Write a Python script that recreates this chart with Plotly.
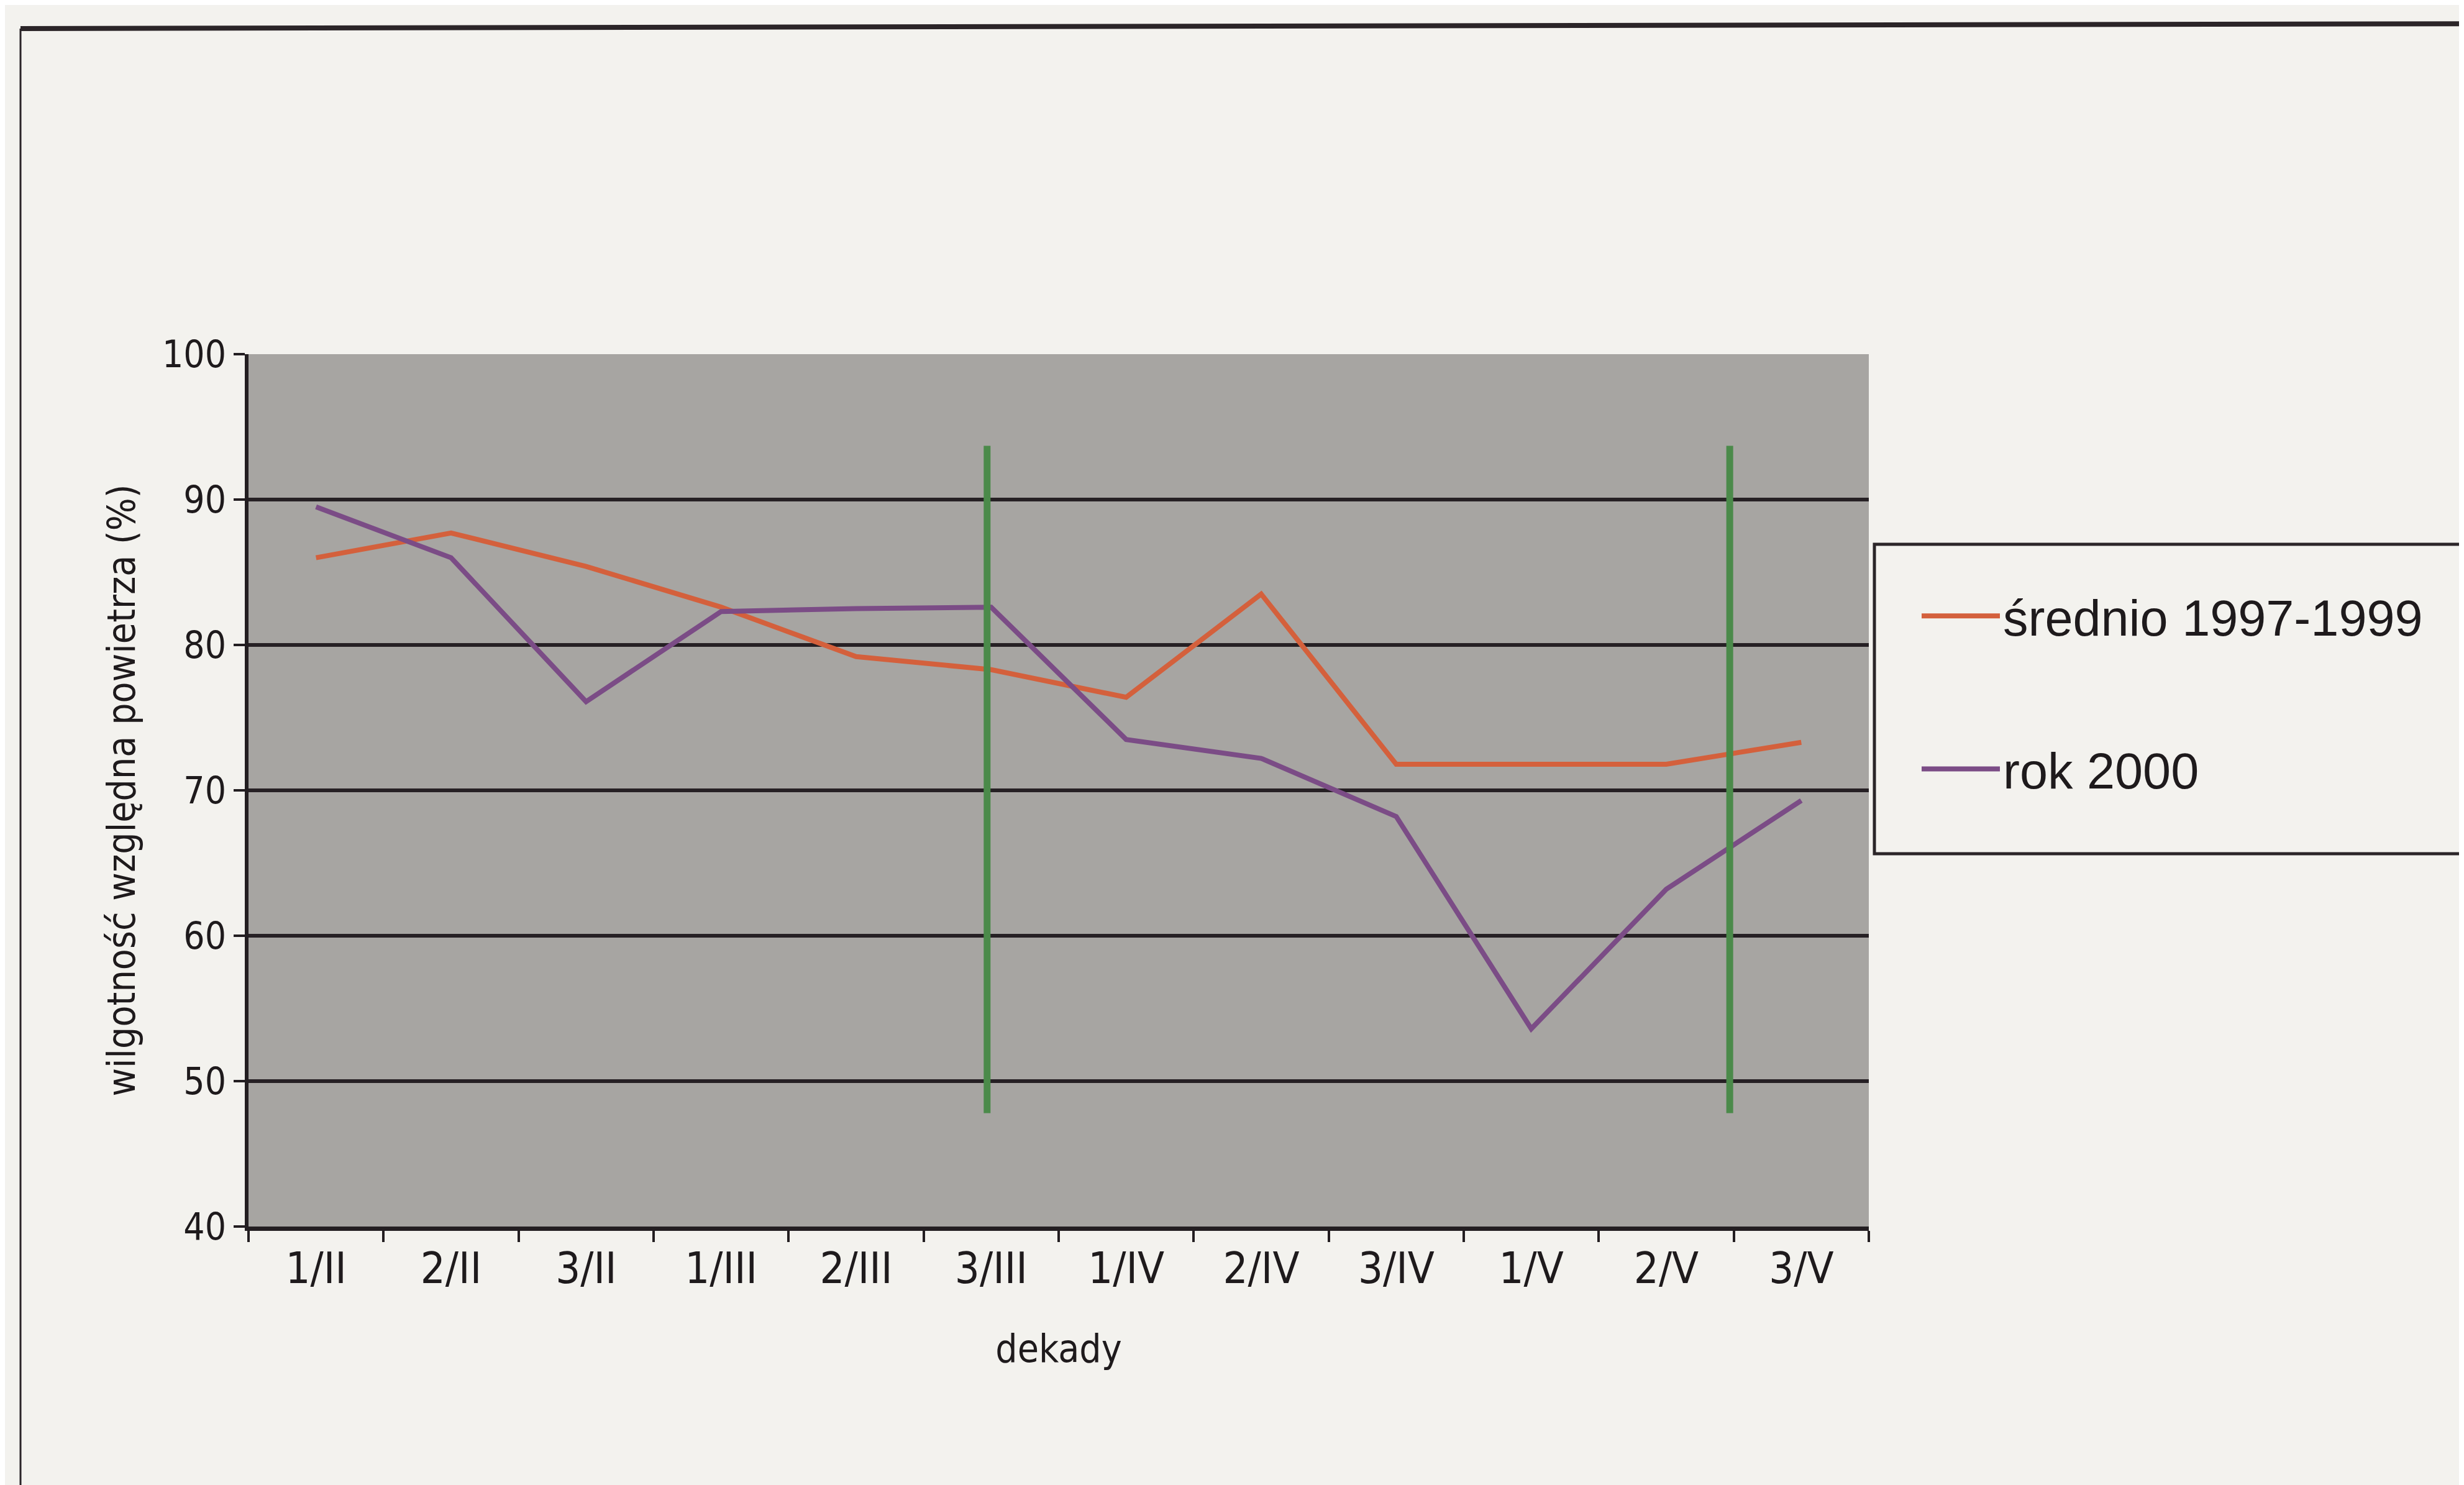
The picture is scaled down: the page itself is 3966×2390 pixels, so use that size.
import plotly.graph_objects as go

categories = ["1/II", "2/II", "3/II", "1/III", "2/III", "3/III",
              "1/IV", "2/IV", "3/IV", "1/V", "2/V", "3/V"]
avg_1997_1999 = [86.0, 87.7, 85.4, 82.6, 79.2, 78.3, 76.4, 83.5, 71.8, 71.8, 71.8, 73.3]
year_2000 = [89.5, 86.0, 76.1, 82.3, 82.5, 82.6, 73.5, 72.2, 68.2, 53.6, 63.2, 69.3]
series_names = ["średnio 1997-1999", "rok 2000"]
y_ticks = [40, 50, 60, 70, 80, 90, 100]
marker_lines_x = [4.97, 10.47]

W, H = 3966, 2390
L, R, T, B = 392, 966, 562, 424
pw = W - L - R
ph = H - T - B

def px_x(p):
    return (p - L) / pw

def px_y(p):
    return (H - B - p) / ph

NARROW = "Liberation Sans Narrow, Arial Narrow, DejaVu Sans Condensed, sans-serif"
SANS = "Liberation Sans, Arial, sans-serif"

fig = go.Figure()
fig.add_trace(go.Scatter(x=categories, y=avg_1997_1999, mode="lines",
                         name=series_names[0], legendgroup="a",
                         line=dict(color="#d4603c", width=8)))
fig.add_trace(go.Scatter(x=categories, y=year_2000, mode="lines",
                         name=series_names[1], legendgroup="b",
                         line=dict(color="#7b4c86", width=8)))

shapes = []
for xv in marker_lines_x:
    shapes.append(dict(type="line", xref="x", yref="y", x0=xv, x1=xv, y0=47.8, y1=93.7,
                       line=dict(color="#4b8a4a", width=11), layer="above"))
# legend box
shapes.append(dict(type="rect", xref="paper", yref="paper",
                   x0=px_x(3009), x1=px_x(4100), y0=px_y(1366), y1=px_y(868),
                   line=dict(color="#2b2528", width=5), fillcolor="rgba(0,0,0,0)", layer="below"))
# outer frame
shapes.append(dict(type="line", xref="paper", yref="paper",
                   x0=px_x(25), x1=px_x(4100), y0=px_y(38), y1=px_y(30),
                   line=dict(color="#2b2528", width=8)))
shapes.append(dict(type="line", xref="paper", yref="paper",
                   x0=px_x(25), x1=px_x(25), y0=px_y(38), y1=px_y(2500),
                   line=dict(color="#2b2528", width=3)))

fig.update_layout(
    width=W, height=H,
    margin=dict(l=L, r=R, t=T, b=B, autoexpand=False),
    paper_bgcolor="#f3f2ee",
    plot_bgcolor="#a7a5a2",
    font=dict(family=NARROW, color="#1e1a1c", size=60),
    showlegend=True,
    legend=dict(x=px_x(3080), xanchor="left", y=px_y(924), yanchor="top",
                font=dict(family=SANS, size=81, color="#1e1a1c"),
                bgcolor="rgba(0,0,0,0)", borderwidth=0,
                traceorder="grouped", tracegroupgap=138, itemwidth=126),
    shapes=shapes,
    xaxis=dict(
        type="category", range=[-0.5, 11.5],
        showgrid=False, zeroline=False,
        showline=True, linecolor="#231e21", linewidth=7,
        ticks="outside", tickson="boundaries", ticklen=18, tickwidth=4, tickcolor="#231e21",
        tickfont=dict(family=NARROW, size=70),
        title=dict(text="dekady", font=dict(family=NARROW, size=62), standoff=70),
    ),
    yaxis=dict(
        range=[40, 100], tickvals=y_ticks,
        showgrid=True, gridcolor="#262024", gridwidth=6, zeroline=False,
        showline=True, linecolor="#231e21", linewidth=6,
        ticks="outside", ticklen=18, tickwidth=4, tickcolor="#231e21",
        tickfont=dict(family=NARROW, size=60),
        title=dict(text="wilgotność względna powietrza (%)", font=dict(family=NARROW, size=62), standoff=25),
    ),
)

fig.write_html("out.html")
